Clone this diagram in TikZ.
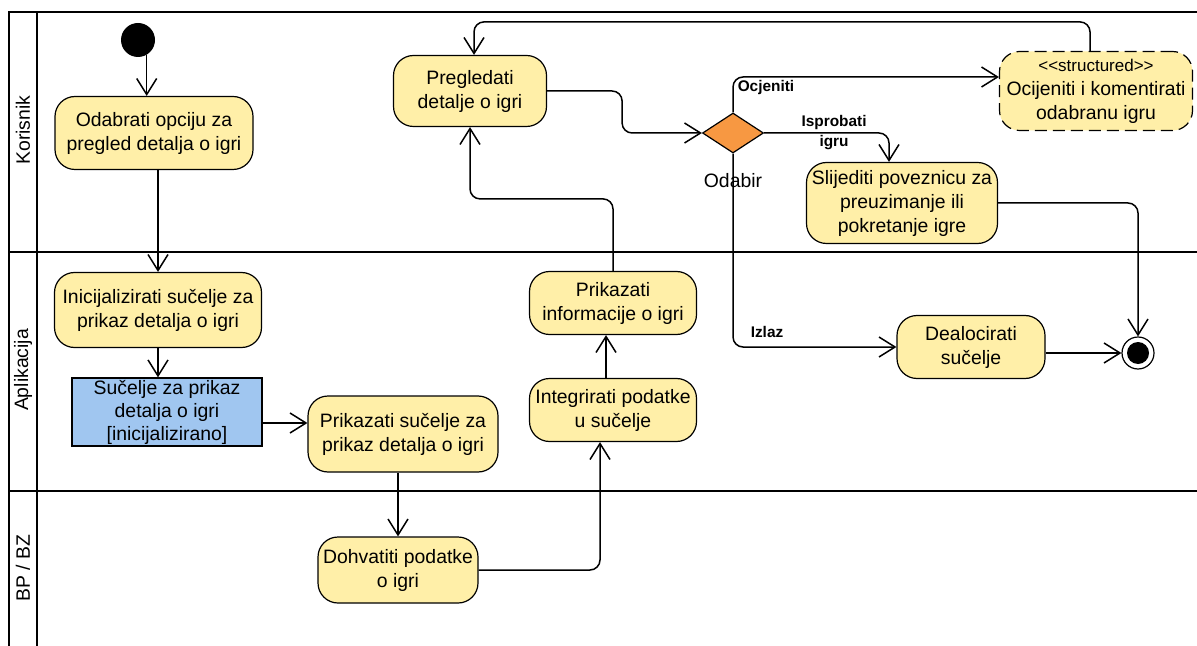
\documentclass[tikz,border=0pt]{standalone}
\usepackage{fontspec}
\setmainfont{Liberation Sans}
\usetikzlibrary{arrows.meta,shapes.geometric}

\definecolor{actfill}{RGB}{255,239,168}
\definecolor{objfill}{RGB}{160,198,240}
\definecolor{decfill}{RGB}{247,152,66}

\tikzset{%
  act/.style={draw,fill=actfill,rounded corners=10pt,align=center,inner sep=1pt,line width=0.6pt},%
  obj/.style={draw,fill=objfill,align=center,inner sep=1pt,line width=0.6pt,font=\fontsize{9.7}{11.5}\selectfont},%
  flow/.style={-{Straight Barb[length=8pt,width=10pt]},line width=0.75pt,rounded corners=5pt},%
  lane/.style={line width=1.3pt},%
  guard/.style={font=\fontsize{7.7}{10}\selectfont\bfseries,inner sep=0pt,align=center}%
}

\begin{document}
\begin{tikzpicture}[x=0.5pt,y=-0.5pt]%
\fontsize{9.7}{12}\selectfont%
  \useasboundingbox (0,0) rectangle (1197,646);
  % swimlanes
  \draw[lane] (1197,12) -| (9,646);
  \draw[lane] (37,12) -- (37,646);
  \foreach \y in {252,491}
    \draw[lane] (9,\y) -- (1197,\y);
  \foreach \name/\y in {Korisnik/130,Aplikacija/370,{BP / BZ}/568}
    \node[rotate=90] (lane-\y) at (23,\y) {\name};
  % start and end
  \node[circle,fill,minimum size=17pt,inner sep=0pt] (start) at (138,40) {};
  \node[circle,draw,line width=0.6pt,minimum size=16pt,inner sep=0pt] (kraj) at (1138,353) {};
  \fill (kraj) circle (5.5pt);
  % Korisnik
  \node[act,minimum width=99pt,minimum height=36.5pt] (odabrati) at (154,133)
    {Odabrati opciju za\\pregled detalja o igri};
  \node[act,minimum width=76.5pt,minimum height=35.5pt] (pregled) at (470,91)
    {Pregledati\\detalje o igri};
  \node[diamond,draw,fill=decfill,line width=0.6pt,minimum width=30.5pt,minimum height=20pt,inner sep=0pt] (odabir) at (733,133) {};
  \node (odabirLbl) at (733,181) {Odabir};
  \node[act,dash pattern=on 6pt off 3pt,minimum width=96.5pt,minimum height=39.5pt] (ocijeniti) at (1096,91)
    {{\fontsize{8.5}{10}\selectfont <{}<structured>{}>}\\Ocijeniti i komentirati\\odabranu igru};
  \node[act,minimum width=95.5pt,minimum height=40.5pt] (slijediti) at (902,203)
    {Slijediti poveznicu za\\preuzimanje ili\\pokretanje igre};
  % Aplikacija
  \node[act,minimum width=103.5pt,minimum height=37.5pt] (inicijal) at (158,310)
    {Inicijalizirati sučelje za\\prikaz detalja o igri};
  \node[obj,minimum width=95pt,minimum height=33.5pt] (sucelje) at (167,412)
    {Sučelje za prikaz\\detalja o igri\\{[inicijalizirano]}};
  \node[act,minimum width=95pt,minimum height=38pt] (prikSuc) at (403,434)
    {Prikazati sučelje za\\prikaz detalja o igri};
  \node[act,minimum width=83.5pt,minimum height=31.5pt] (integ) at (613,410)
    {Integrirati podatke\\u sučelje};
  \node[act,minimum width=83.5pt,minimum height=31.5pt] (prikInf) at (613,303)
    {Prikazati\\informacije o igri};
  \node[act,minimum width=74pt,minimum height=31.5pt] (dealoc) at (971,347)
    {Dealocirati\\sučelje};
  % BP / BZ
  \node[act,minimum width=80pt,minimum height=33pt] (dohvat) at (398,570)
    {Dohvatiti podatke\\o igri};
  % flows
  \draw[flow] (start.-60) -- (start.-60 |- odabrati.north);
  \draw[flow] (odabrati.south -| inicijal.north) -- (inicijal.north);
  \draw[flow] (inicijal.south) -- (inicijal.south |- sucelje.north);
  \draw[flow] ([yshift=-5.5pt]sucelje.east) -- ([yshift=-5.5pt]sucelje.east -| prikSuc.west);
  \draw[flow] (prikSuc.south -| dohvat.north) -- (dohvat.north);
  \draw[flow] (dohvat.east) -| ([xshift=-6.5pt]integ.south);
  \draw[flow] ([xshift=-3.5pt]integ.north) -- ([xshift=-3.5pt]prikInf.south);
  \draw[flow] (prikInf.north) -- ++(0,-72) -| (pregled.south);
  \draw[flow] (pregled.east) -- ++(75,0) |- (odabir.west);
  \draw[flow] (odabir.north) |- node[guard,pos=0.5,anchor=north west,xshift=2pt,yshift=-1.5pt] {Ocjeniti}
    ([yshift=7pt]ocijeniti.west);
  \draw[flow] (odabir.east) -| node[guard,pos=0.28] {Isprobati\\igru} ([xshift=-6.5pt]slijediti.north);
  \draw[flow] (odabir.south) |- node[guard,pos=0.5,anchor=south west,xshift=8.5pt,yshift=4.5pt] {Izlaz} (dealoc.west);
  \draw[flow] ([xshift=-3pt]ocijeniti.north) -- ++(0,-29) -| ([xshift=2pt]pregled.north);
  \draw[flow] (slijediti.east) -| (kraj.north);
  \draw[flow] (dealoc.east |- kraj.west) -- (kraj.west);
\end{tikzpicture}
\end{document}
